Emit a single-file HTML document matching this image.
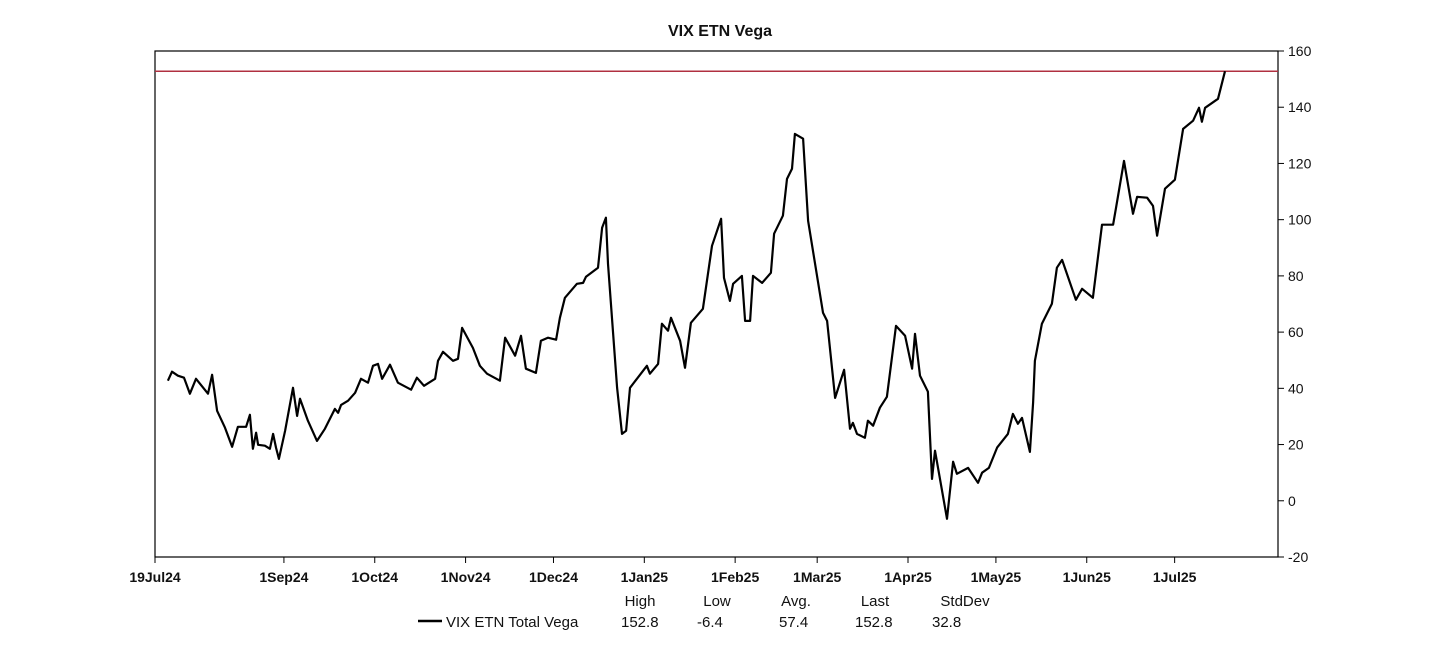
<!DOCTYPE html>
<html><head><meta charset="utf-8"><style>
body{margin:0;background:#fff;font-family:"Liberation Sans",Arial,sans-serif}
svg text{font-family:"Liberation Sans",Arial,sans-serif}
</style></head><body>
<svg id="chart" width="1456" height="651" viewBox="0 0 1456 651" xmlns="http://www.w3.org/2000/svg">
<rect width="1456" height="651" fill="#fff"/>
<text x="720" y="36" text-anchor="middle" font-size="16" font-weight="bold" fill="#111">VIX ETN Vega</text>
<g id="axes"></g>
<g id="series"></g>
<g font-size="15" fill="#111">
<line x1="418" y1="621" x2="442" y2="621" stroke="#000" stroke-width="2.5"/>
<text x="446" y="627">VIX ETN Total Vega</text>
<text x="640" y="606" text-anchor="middle">High</text>
<text x="717" y="606" text-anchor="middle">Low</text>
<text x="796" y="606" text-anchor="middle">Avg.</text>
<text x="875" y="606" text-anchor="middle">Last</text>
<text x="965" y="606" text-anchor="middle">StdDev</text>
<text x="621" y="627">152.8</text>
<text x="697" y="627">-6.4</text>
<text x="779" y="627">57.4</text>
<text x="855" y="627">152.8</text>
<text x="932" y="627">32.8</text>
</g>
</svg>
<script>
const days=[4.4,5.8,7.8,9.9,11.9,14.0,18.1,19.5,21.2,23.9,26.3,28.3,31.1,32.4,33.4,34.5,35.2,37.5,39.2,40.3,41.3,42.3,44.4,47.1,48.5,49.5,52.2,55.3,58.0,61.4,62.5,63.5,65.9,68.3,70.3,72.7,74.4,76.1,77.5,80.2,82.9,87.4,89.4,91.8,95.6,96.6,98.3,101.7,103.4,104.8,108.5,110.9,113.3,117.7,119.5,122.9,124.9,126.6,130.0,131.7,134.1,136.9,138.2,139.9,144.0,146.1,147.1,151.2,152.6,153.9,154.6,157.7,159.4,160.8,162.1,167.9,168.9,171.7,173.0,175.1,176.1,179.2,180.9,182.9,187.0,190.1,193.2,194.2,196.2,197.3,200.3,201.4,203.1,204.1,207.2,210.2,211.3,214.3,215.7,217.4,218.4,221.2,222.9,228.0,229.4,232.1,235.2,237.2,238.2,239.6,242.3,243.3,245.1,247.4,249.8,252.9,256.0,258.4,259.4,261.1,263.8,265.2,266.2,270.3,272.4,273.7,277.5,280.9,282.3,284.6,287.4,291.1,292.8,294.5,295.9,298.6,299.7,300.3,302.7,306.1,307.8,309.6,314.3,316.4,320.1,323.2,327.0,328.0,330.7,333.8,335.2,338.6,340.6,342.0,344.7,348.1,350.9,354.3,356.3,357.3,358.4,362.8,365.2];
const vega=[42.7,45.9,44.5,43.8,38.1,43.4,38.1,44.8,32.0,26.0,19.2,26.3,26.3,30.6,18.5,24.2,19.9,19.6,18.5,23.8,18.9,14.9,24.9,40.2,30.2,36.3,28.5,21.3,25.6,32.7,31.3,34.1,35.6,38.4,43.4,42.0,48.0,48.7,43.4,48.4,42.0,39.5,43.8,40.9,43.4,49.8,53.0,49.8,50.5,61.5,54.4,48.0,45.2,42.7,58.0,51.6,58.7,47.0,45.5,56.9,58.0,57.3,65.1,72.2,77.2,77.5,79.7,82.9,97.1,100.7,84.3,40.2,23.8,24.9,40.2,48.0,45.2,48.7,63.0,60.5,65.1,56.9,47.3,63.3,68.3,90.7,100.3,79.3,71.1,77.2,80.0,64.0,64.0,80.0,77.5,81.1,95.0,101.4,114.5,118.1,130.5,128.8,99.6,66.9,64.0,36.6,46.6,25.6,27.7,23.8,22.4,28.5,26.7,33.1,37.0,62.2,58.7,47.0,59.4,44.5,38.8,7.8,17.8,-6.4,13.9,9.6,11.7,6.4,10.0,11.7,18.9,23.8,30.9,27.4,29.5,17.4,34.9,49.8,63.0,70.1,82.9,85.7,71.5,75.4,72.2,98.2,98.2,104.2,120.9,102.1,108.1,107.8,104.9,94.3,111.0,114.2,132.3,135.2,139.8,134.8,139.8,143.0,152.8];
const refLevel=[152.8];
const yTicks=[-20,0,20,40,60,80,100,120,140,160];
const xTickDays=[0,44,75,106,136,167,198,226,257,287,318,348];
const xTickLabels=["19Jul24","1Sep24","1Oct24","1Nov24","1Dec24","1Jan25","1Feb25","1Mar25","1Apr25","1May25","1Jun25","1Jul25"];

const L=155,R=1278,T=51,B=557,ymin=-20,ymax=160,dmax=(R-L)/2.93;
const X=d=>L+(d/dmax)*(R-L);
const Y=v=>B-(v-ymin)/(ymax-ymin)*(B-T);
const NS="http://www.w3.org/2000/svg";
function mk(tag,attrs,parent){const e=document.createElementNS(NS,tag);for(const k in attrs)e.setAttribute(k,attrs[k]);parent.appendChild(e);return e;}
const axes=document.getElementById('axes'),series=document.getElementById('series');

const frame=mk('rect',{x:L,y:T,width:R-L,height:B-T,fill:'none',stroke:'#000','stroke-width':1.2},axes);



yTicks.forEach(v=>{
  const t=mk('line',{x1:R,x2:R+6,y1:Y(v),y2:Y(v),stroke:'#000'},axes);
  
  
  const tx=mk('text',{x:R+10,y:Y(v)+5,'font-size':14,fill:'#111'},axes);
  tx.textContent=v;
  
  
});
xTickDays.forEach((d,i)=>{
  const t=mk('line',{x1:X(d),x2:X(d),y1:B,y2:B+6,stroke:'#000'},axes);
  
  
  const tx=mk('text',{x:X(d),y:B+25,'font-size':14,'font-weight':'bold','text-anchor':'middle',fill:'#111'},axes);
  tx.textContent=xTickLabels[i];
  
  
});

const ref=mk('line',{x1:L,x2:R,y1:Y(refLevel[0]),y2:Y(refLevel[0]),stroke:'#b03040','stroke-width':1.5},series);



const pts=days.map((d,i)=>X(d).toFixed(1)+','+Y(vega[i]).toFixed(1)).join(' ');
const line=mk('polyline',{points:pts,fill:'none',stroke:'#000','stroke-width':2.2,'stroke-linejoin':'round'},series);


</script>
</body></html>
